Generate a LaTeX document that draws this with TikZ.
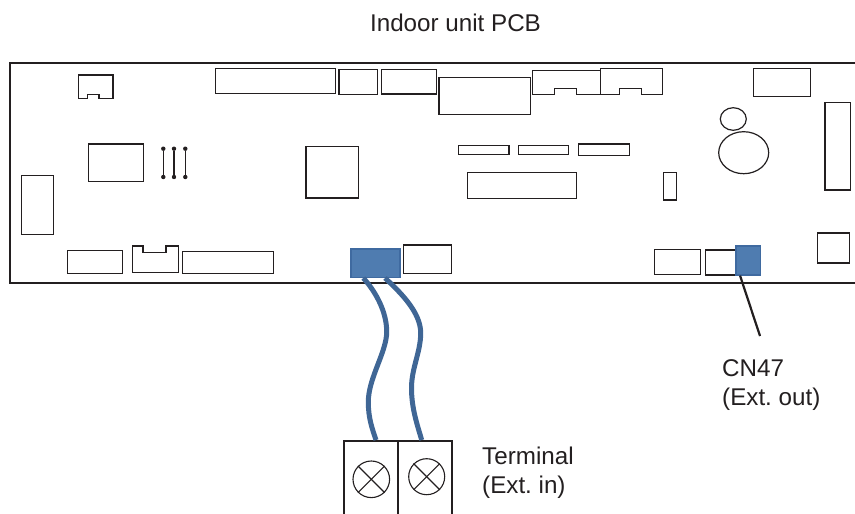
\documentclass[tikz,border=0pt]{standalone}
\usepackage{fontspec}
\usetikzlibrary{shapes.geometric}
\setmainfont{Liberation Sans}
\definecolor{blk}{HTML}{231F20}
\definecolor{pcbblue}{HTML}{4F7CB0}
\definecolor{pcbedge}{HTML}{3F6AA0}
\definecolor{wireblue}{HTML}{3F6695}
\tikzset{
  part/.style={draw=blk,line width=1.2pt,fill=white},
  board/.style={draw=blk,line width=2pt},
  bluepart/.style={draw=pcbedge,line width=1.2pt,fill=pcbblue},
  wire/.style={draw=wireblue,line width=5pt},
  jump/.style={draw=blk,line width=1.2pt},
  dotend/.style={circle,fill=blk,inner sep=0pt,minimum size=4.4pt},
  termline/.style={draw=blk,line width=2.2pt},
  screwc/.style={draw=blk,line width=1.1pt},
  lbl/.style={font=\fontsize{24.2}{29}\selectfont\frenchspacing,text=blk,inner sep=0pt,align=left,anchor=base west},
}
\begin{document}
\begin{tikzpicture}[x=1pt,y=-1pt]
\useasboundingbox (0,0) rectangle (855,514);
% board
\draw[board] (855,62.5) -- (10,62.5) -- (10,283) -- (855,283);
% parts, left
\draw[part] (78.3,75) -- (113,75) -- (113,98.7) -- (99,98.7) -- (99,94.3) -- (87.7,94.3) -- (87.7,98.7) -- (78.3,98.7) -- cycle;
\node[part,inner sep=0pt,minimum width=120.4pt,minimum height=25pt] (p1) at (275.5,81.2) {};
\node[part,inner sep=0pt,minimum width=38.7pt,minimum height=25pt] (p2) at (358.3,81.8) {};
\node[part,inner sep=0pt,minimum width=55.4pt,minimum height=24.7pt] (p3) at (409,81.7) {};
\node[part,inner sep=0pt,minimum width=55pt,minimum height=37.7pt] (p4) at (116.2,162.8) {};
\node[part,inner sep=0pt,minimum width=52.7pt,minimum height=51.3pt] (p5) at (332.3,172.3) {};
\node[part,inner sep=0pt,minimum width=32pt,minimum height=59pt] (p6) at (37.3,205.2) {};
\node[part,inner sep=0pt,minimum width=55.4pt,minimum height=23pt] (p7) at (95,262.2) {};
\draw[part] (132.3,246) -- (143,246) -- (143,252.3) -- (166,252.3) -- (166,246) -- (178.7,246) -- (178.7,272.7) -- (132.3,272.7) -- cycle;
\node[part,inner sep=0pt,minimum width=91pt,minimum height=21.6pt] (p8) at (228.2,262.5) {};
\node[part,inner sep=0pt,minimum width=47.6pt,minimum height=28.3pt] (p9) at (427.5,259.2) {};
% jumpers
\foreach \n/\x/\w in {a/163.3/1.1pt,b/174/1.6pt,c/185.3/1.1pt}{
  \node[dotend] (j\n t) at (\x,148.7) {};
  \node[dotend] (j\n b) at (\x,177) {};
  \draw[jump,line width=\w] (j\n t) -- (j\n b);
}
% parts, middle and right
\node[part,inner sep=0pt,minimum width=91.7pt,minimum height=37pt] (q1) at (484.8,95.8) {};
\draw[part] (532.7,70.7) -- (600.3,70.7) -- (600.3,94.7) -- (576.7,94.7) -- (576.7,88.7) -- (554.7,88.7) -- (554.7,94.7) -- (532.7,94.7) -- cycle;
\draw[part] (600.3,68.7) -- (662.7,68.7) -- (662.7,94.7) -- (641.7,94.7) -- (641.7,88.7) -- (619.7,88.7) -- (619.7,94.7) -- (600.3,94.7) -- cycle;
\node[part,inner sep=0pt,minimum width=57pt,minimum height=28pt] (q2) at (782.2,82.7) {};
\node[part,ellipse,inner sep=0pt,minimum width=26pt,minimum height=22.6pt] (c1) at (733.3,119) {};
\node[part,ellipse,inner sep=0pt,minimum width=50pt,minimum height=42pt] (c2) at (743.7,152.7) {};
\node[part,inner sep=0pt,minimum width=25.7pt,minimum height=87.3pt] (q3) at (837.9,146.3) {};
\node[part,inner sep=0pt,minimum width=50.3pt,minimum height=9.4pt] (q4) at (483.9,150) {};
\node[part,inner sep=0pt,minimum width=50pt,minimum height=9.4pt] (q5) at (543.7,150) {};
\node[part,inner sep=0pt,minimum width=50.6pt,minimum height=11.3pt] (q6) at (604,149.7) {};
\node[part,inner sep=0pt,minimum width=108.6pt,minimum height=26pt] (q7) at (522,185.7) {};
\node[part,inner sep=0pt,minimum width=13pt,minimum height=27.3pt] (q8) at (669.8,186.3) {};
\node[part,inner sep=0pt,minimum width=46.4pt,minimum height=25.4pt] (q9) at (677.5,262) {};
\node[part,inner sep=0pt,minimum width=30.7pt,minimum height=25pt] (q10) at (720.7,262.5) {};
\node[part,inner sep=0pt,minimum width=32pt,minimum height=30pt] (q11) at (833.3,248) {};
% blue connectors
\node[bluepart,inner sep=0pt,minimum width=49pt,minimum height=28.3pt] (cnin) at (375.5,263.2) {};
\node[bluepart,inner sep=0pt,minimum width=24.7pt,minimum height=29pt] (cnout) at (748.3,260.5) {};
% terminal
\coordinate (tl) at (344,514);
\coordinate (tm) at (398,514);
\coordinate (tr) at (452.3,514);
\draw[termline] (tl) -- (344,440.7) -- (452.3,440.7) -- (tr);
\draw[termline] (398,440.7) -- (tm);
\node[screwc,circle,draw,inner sep=0pt,minimum size=36.6pt] (s1) at (371.3,479.3) {};
\node[screwc,circle,draw,inner sep=0pt,minimum size=36pt] (s2) at (426.7,476.7) {};
\foreach \s in {s1,s2}{
  \draw[screwc] (\s.north west) -- (\s.south east);
  \draw[screwc] (\s.north east) -- (\s.south west);
}
% wires
\coordinate (w1a) at (363.3,278);
\coordinate (w1b) at (376,440);
\coordinate (w2a) at (385,278);
\coordinate (w2b) at (421.7,440);
\draw[wire] (w1a) .. controls (376,292) and (386.7,312) .. (386.7,331.7) .. controls (386.7,352) and (368.3,378) .. (368.3,402) .. controls (368.3,418) and (372,428) .. (w1b);
\draw[wire] (w2a) .. controls (400,292) and (420.7,312) .. (420.7,333) .. controls (420.7,352) and (411.5,368) .. (411.5,388) .. controls (411.5,408) and (417,424) .. (w2b);
% leader
\coordinate (lead) at (760,336);
\draw[blk,line width=2.2pt] ([xshift=4.7pt]cnout.south west) -- (lead);
% labels
\node[lbl,anchor=base] (t0) at (455.5,31.5) {Indoor unit PCB};
\node[lbl] (t1) at (722,405) {CN47\\(Ext. out)};
\node[lbl] (t2) at (482,493) {Terminal\\(Ext. in)};
\end{tikzpicture}
\end{document}
